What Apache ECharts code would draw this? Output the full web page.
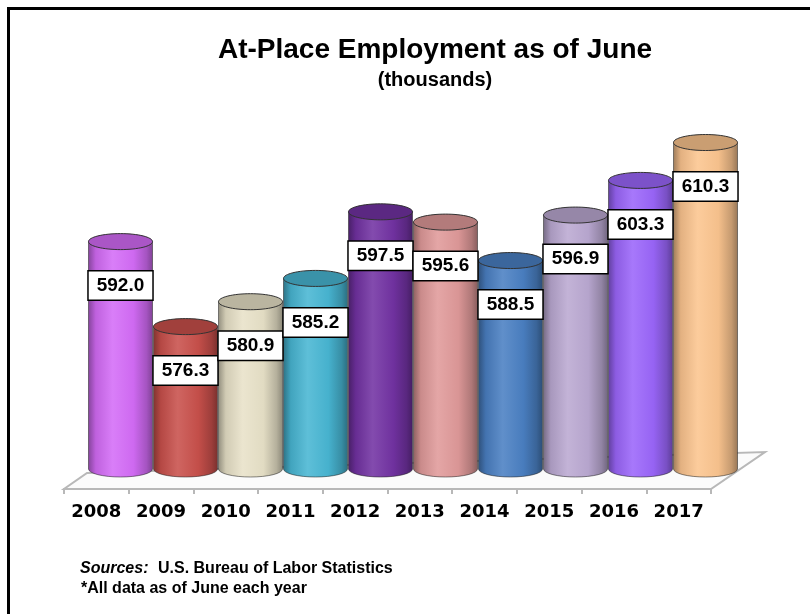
<!DOCTYPE html>
<html>
<head>
<meta charset="utf-8">
<script src="https://cdn.jsdelivr.net/npm/echarts@6/dist/echarts.min.js"></script>
<style>
html,body{margin:0;padding:0;background:#fff;}
#chart{width:810px;height:614px;}
</style>
</head>
<body>
<div id="chart"></div>
<script>
const years = ['2008','2009','2010','2011','2012','2013','2014','2015','2016','2017'];
const values = [592.0, 576.3, 580.9, 585.2, 597.5, 595.6, 588.5, 596.9, 603.3, 610.3];
const barColors = ['#d46cf7','#c9504b','#e8e2c8','#48b6d3','#7232a3','#e09a9a','#4a80c3','#bba9d2','#9b66fb','#fcc58f'];
const valueMin = 550;
const valueMax = 620;
const titleText = 'At-Place Employment as of June';
const subtitleText = '(thousands)';
const sourceLabel = 'Sources:';
const sourceText = 'U.S. Bureau of Labor Statistics';
const noteText = '*All data as of June each year';

function shade(hex, f) {
  const n = parseInt(hex.slice(1), 16);
  let r = (n >> 16) & 255, g = (n >> 8) & 255, b = n & 255;
  if (f <= 1) { r *= f; g *= f; b *= f; }
  else { const t = f - 1; r += (255 - r) * t; g += (255 - g) * t; b += (255 - b) * t; }
  const c = v => Math.max(0, Math.min(255, Math.round(v))).toString(16).padStart(2, '0');
  return '#' + c(r) + c(g) + c(b);
}

const chart = echarts.init(document.getElementById('chart'), null, {renderer: 'canvas'});

const option = {
  backgroundColor: '#ffffff',
  animation: false,
  graphic: [
    {type: 'polyline', shape: {points: [[8.5, 620], [8.5, 8.5], [820, 8.5]]}, style: {stroke: '#000', lineWidth: 3, fill: null}, z: 100},
    {type: 'text', x: 435, y: 50, style: {text: titleText, font: 'bold 28px "Liberation Sans", Arial', fill: '#000', align: 'center', verticalAlign: 'middle'}},
    {type: 'text', x: 435, y: 80, style: {text: subtitleText, font: 'bold 20px "Liberation Sans", Arial', fill: '#000', align: 'center', verticalAlign: 'middle'}},
    {type: 'text', x: 80, y: 569, style: {text: sourceLabel, font: 'italic bold 16px "Liberation Sans", Arial', fill: '#000', align: 'left', verticalAlign: 'middle'}},
    {type: 'text', x: 158, y: 569, style: {text: sourceText, font: 'bold 16px "Liberation Sans", Arial', fill: '#000', align: 'left', verticalAlign: 'middle'}},
    {type: 'text', x: 81, y: 589, style: {text: noteText, font: 'bold 16px "Liberation Sans", Arial', fill: '#000', align: 'left', verticalAlign: 'middle'}}
  ],
  grid: [
    {left: 64, right: 99, top: 90, bottom: 125},
    {left: 88, right: 72, top: 90, bottom: 145}
  ],
  xAxis: [
    {
      type: 'category', gridIndex: 0, data: years, boundaryGap: true,
      axisLine: {show: true, lineStyle: {color: '#b8b8b8', width: 2}},
      axisTick: {show: true, interval: 0, length: 5, lineStyle: {color: '#b8b8b8', width: 2}},
      axisLabel: {interval: 0, margin: 14, color: '#000', fontFamily: '"DejaVu Sans", sans-serif', fontWeight: 'bold', fontSize: 18}
    },
    {type: 'category', gridIndex: 1, data: years, show: false}
  ],
  yAxis: [
    {type: 'value', gridIndex: 0, min: 0, max: 1, show: false},
    {type: 'value', gridIndex: 1, min: valueMin, max: valueMax, show: false}
  ],
  series: [
    {
      type: 'custom', xAxisIndex: 0, yAxisIndex: 0, z: 1, silent: true,
      data: [[0, 0]],
      renderItem: function (params, api) {
        const p = api.coord([0, 0]);
        const band = api.size([1, 0])[0];
        const left = p[0] - band / 2;
        const right = left + band * years.length;
        const y = p[1];
        return {
          type: 'polygon',
          shape: {points: [[left, y], [right, y], [right + 54, y - 37], [left + 23, y - 16]]},
          style: {fill: '#fbfbfb', stroke: '#b8b8b8', lineWidth: 2}
        };
      }
    },
    {
      type: 'custom', xAxisIndex: 1, yAxisIndex: 1, z: 3, silent: true,
      data: values.map((v, i) => [i, v]),
      renderItem: function (params, api) {
        const i = api.value(0), v = api.value(1);
        const top = api.coord([i, v]);
        const base = api.coord([i, valueMin]);
        const w = api.size([1, 0])[0];
        const rx = w / 2 - 0.5, ry = 8;
        const cx = top[0];
        const col = barColors[i];
        const grad = new echarts.graphic.LinearGradient(0, 0, 1, 0, [
          {offset: 0, color: shade(col, 0.62)},
          {offset: 0.12, color: shade(col, 0.9)},
          {offset: 0.38, color: shade(col, 1.12)},
          {offset: 0.7, color: shade(col, 0.97)},
          {offset: 0.9, color: shade(col, 0.78)},
          {offset: 1, color: shade(col, 0.6)}
        ]);
        const path = 'M' + (cx - rx) + ' ' + top[1] +
          ' L' + (cx - rx) + ' ' + base[1] +
          ' A' + rx + ' ' + ry + ' 0 0 0 ' + (cx + rx) + ' ' + base[1] +
          ' L' + (cx + rx) + ' ' + top[1] + ' Z';
        return {
          type: 'group',
          children: [
            {type: 'path', shape: {pathData: path}, style: {fill: grad, stroke: 'rgba(40,40,40,0.55)', lineWidth: 1}, z2: 1},
            {type: 'ellipse', shape: {cx: cx, cy: top[1], rx: rx, ry: ry}, style: {fill: shade(col, 0.8), stroke: '#333', lineWidth: 1}, z2: 2},
            {type: 'text', x: cx, y: top[1] + 44, z2: 100,
              style: {text: v.toFixed(1), font: 'bold 19px "Liberation Sans", Arial', fill: '#000', align: 'center', verticalAlign: 'middle',
                backgroundColor: '#fff', borderColor: '#000', borderWidth: 1.5, padding: [5, 8, 4, 8]}}
          ]
        };
      }
    }
  ]
};
chart.setOption(option);
</script>
</body>
</html>
